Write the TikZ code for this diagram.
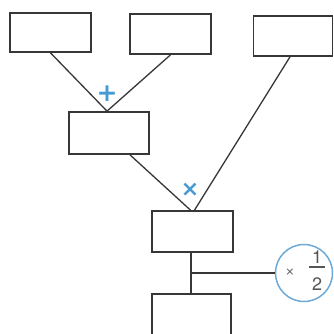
\documentclass[tikz,border=0pt]{standalone}
\usepackage{fontspec}
\setsansfont{TeX Gyre Heros}
\newfontfamily\symfont{DejaVu Sans}
\usetikzlibrary{calc}
\definecolor{opblue}{RGB}{70,155,210}
\definecolor{ringblue}{RGB}{110,170,215}
\definecolor{ink}{RGB}{55,55,55}
\definecolor{txtgray}{RGB}{85,85,85}
\tikzset{
  box/.style={draw=ink, line width=1.7pt, rectangle, inner sep=0pt, fill=white},
  link/.style={draw=ink, line width=1.3pt},
  opsign/.style={text=opblue, font=\symfont\bfseries\fontsize{25}{25}\selectfont, inner sep=0pt},
  ring/.style={draw=ringblue, line width=1.5pt, circle, minimum size=57pt, inner sep=0pt, fill=white},
  digit/.style={text=txtgray, font=\sffamily\fontsize{18}{18}\selectfont, inner sep=0pt}
}
\begin{document}
\begin{tikzpicture}[x=1pt,y=-1pt]
\useasboundingbox (0,0) rectangle (333,334);
\fill[white] (0,0) rectangle (333,334);
\clip (0,0) rectangle (333,334);
% boxes
\node[box, minimum width=81pt, minimum height=39pt] (b1) at (50.5,32.5) {};
\node[box, minimum width=81pt, minimum height=40pt] (b2) at (170.5,34) {};
\node[box, minimum width=79pt, minimum height=40pt] (b3) at (293,36) {};
\node[box, minimum width=80pt, minimum height=42pt] (b4) at (109,133) {};
\node[box, minimum width=81pt, minimum height=41pt] (b5) at (192.5,231.5) {};
\node[box, minimum width=79pt, minimum height=44pt] (b6) at (191.5,316) {};
% circle operator
\node[ring] (r) at (304,273) {};
\node[text=txtgray, font=\symfont\fontsize{11}{11}\selectfont, inner sep=0pt] (tx) at (290,272) {×};
\node[digit] (one) at (317,257) {1};
\node[digit] (two) at (317,284) {2};
\draw[draw=txtgray, line width=1.2pt] ($(one.south west)+(-3,3.5)$) -- ($(one.south east)+(3,3.5)$);
% connectors
\coordinate (m4) at ($(b4.north)+(-2,0)$);
\draw[link] ($(b1.south)+(0,0)$) -- (m4);
\draw[link] (b2.south) -- (m4);
\draw[link] ($(b3.south)+(-3,0)$) -- ($(b5.north)+(2,0)$);
\draw[link] ($(b4.south)+(21,0)$) -- ($(b5.north)+(-2,0)$);
\draw[link] ($(b5.south)+(-1.5,0)$) -- ($(b6.north)+(-0.5,0)$);
\coordinate (j) at (191,273);
\draw[link] (j) -- (r.west);
% operator signs
\node[opsign] (plus) at (107,94) {+};
\node[opsign, font=\symfont\bfseries\fontsize{22}{22}\selectfont] (times) at (190,190) {×};
\end{tikzpicture}
\end{document}
